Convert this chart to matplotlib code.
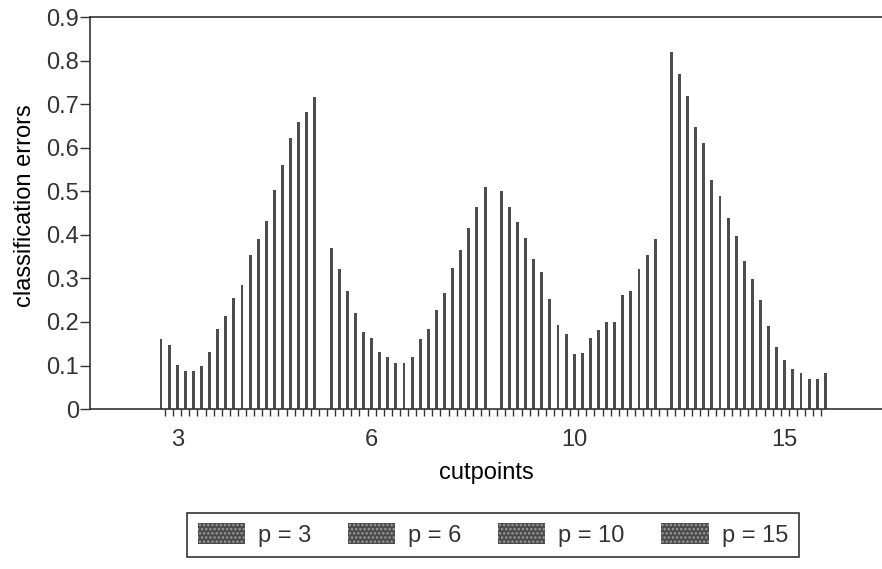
import numpy as np
import matplotlib
matplotlib.use("Agg")
import matplotlib.pyplot as plt
from matplotlib.patches import Patch
from matplotlib.ticker import FuncFormatter

plt.rcParams.update({
    "font.family": ["Liberation Sans", "DejaVu Sans"],
    "font.size": 17,
    "text.color": "#333333",
    "axes.edgecolor": "#333333",
    "xtick.color": "#333333",
    "ytick.color": "#333333",
    "hatch.linewidth": 1.2,
})

series_labels = ["p = 3", "p = 6", "p = 10", "p = 15"]
err_p3 = [0.160, 0.147, 0.101, 0.088, 0.087, 0.099, 0.130, 0.185, 0.213, 0.256,
          0.285, 0.354, 0.391, 0.432, 0.503, 0.561, 0.623, 0.660, 0.681, 0.717]
err_p6 = [0.369, 0.321, 0.271, 0.221, 0.178, 0.164, 0.130, 0.119, 0.107, 0.106,
          0.119, 0.161, 0.185, 0.227, 0.266, 0.324, 0.365, 0.415, 0.463, 0.510]
err_p10 = [0.500, 0.463, 0.429, 0.392, 0.344, 0.314, 0.253, 0.193, 0.172, 0.126,
           0.129, 0.164, 0.181, 0.200, 0.200, 0.262, 0.271, 0.321, 0.354, 0.390]
err_p15 = [0.820, 0.769, 0.719, 0.648, 0.611, 0.526, 0.489, 0.439, 0.397, 0.340,
           0.299, 0.250, 0.191, 0.143, 0.112, 0.091, 0.084, 0.070, 0.070, 0.084]
tick_labels = ["3", "6", "10", "15"]
tick_slots = [2, 26, 51, 77]

BAR = "#4d4d4d"

fig = plt.figure(figsize=(8.82, 5.69), dpi=100)
ax = fig.add_axes([0.102, 0.281, 0.898, 0.689])

# each p block sits in its own run of cutpoint slots, one empty slot between blocks
start = 0
for vals in [err_p3, err_p6, err_p10, err_p15]:
    x = np.arange(start, start + len(vals))
    ax.bar(x, vals, width=0.36, color=BAR, linewidth=0)
    start += len(vals) + 1
n_slots = start - 1

ax.set_xlim(-8.77, 89.0)
ax.set_ylim(0, 0.9)
ax.set_yticks(np.arange(0, 0.91, 0.1))
ax.yaxis.set_major_formatter(FuncFormatter(lambda v, _: "0" if abs(v) < 1e-9 else f"{v:.1f}"))
ax.tick_params(axis="y", direction="out", length=7, width=1, pad=1, labelsize=17)

ax.set_xticks(tick_slots)
ax.set_xticklabels(tick_labels)
ax.tick_params(axis="x", which="major", length=0, pad=14, labelsize=17)
ax.set_xticks(np.arange(0.5, n_slots - 0.5, 1.0), minor=True)
ax.tick_params(axis="x", which="minor", direction="out", length=5, width=1)

ax.spines["right"].set_visible(False)
for s in ["left", "top", "bottom"]:
    ax.spines[s].set_linewidth(1.2)

ax.set_xlabel("cutpoints", fontsize=17, labelpad=8)
ax.set_ylabel("classification errors", fontsize=17, labelpad=0)
ax.yaxis.set_label_coords(-0.068, 0.52)

handles = [Patch(facecolor="#4a4a4a", edgecolor="#9a9a9a", hatch="....", linewidth=0)
           for _ in series_labels]
leg = fig.legend(handles, series_labels, loc="center", bbox_to_anchor=(0.559, 0.060),
                 ncol=4, fancybox=False, framealpha=1, edgecolor="#333333",
                 handlelength=2.0, handleheight=0.95, handletextpad=0.55,
                 columnspacing=1.55, borderpad=0.45, borderaxespad=0, fontsize=17)
leg.get_frame().set_linewidth(1.2)

fig.savefig("out.png", dpi=100, facecolor="white")
